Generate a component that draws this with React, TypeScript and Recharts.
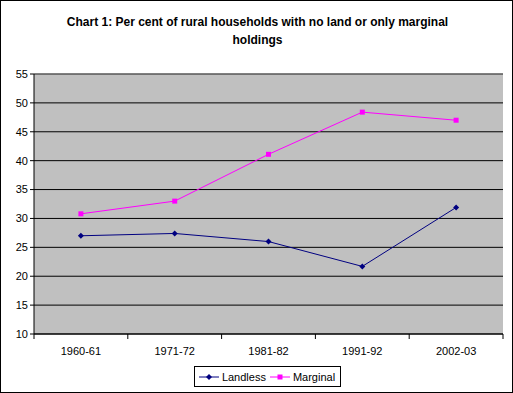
import { LineChart, Line, XAxis, YAxis, CartesianGrid, Legend, ReferenceLine } from "recharts"

const years = ["1960-61", "1971-72", "1981-82", "1991-92", "2002-03"]
const landless = [27.0, 27.4, 26.0, 21.7, 31.9]
const marginal = [30.8, 33.0, 41.1, 48.4, 47.0]
const yTicks = [10, 15, 20, 25, 30, 35, 40, 45, 50, 55]

const chartData = years.map((year, i) => ({ year, landless: landless[i], marginal: marginal[i] }))

const FONT = "'Liberation Sans', Arial, sans-serif"

function Diamond(props: any) {
  const { cx, cy } = props
  if (cx == null || cy == null) return null
  return <polygon points={`${cx},${cy - 3} ${cx + 3},${cy} ${cx},${cy + 3} ${cx - 3},${cy}`} fill="#000080" />
}

function Square(props: any) {
  const { cx, cy } = props
  if (cx == null || cy == null) return null
  return <rect x={cx - 2.5} y={cy - 2.5} width={5} height={5} fill="#ff00ff" />
}

function CategoryTick(props: any) {
  const { x, y, payload, index, visibleTicksCount, width } = props
  const band = (width || 469) / (visibleTicksCount || 5)
  const left = x - band / 2
  return (
    <g>
      <line x1={left} y1={y} x2={left} y2={y + 5} stroke="#000" />
      {index === visibleTicksCount - 1 && (
        <line x1={x + band / 2} y1={y} x2={x + band / 2} y2={y + 5} stroke="#000" />
      )}
      <text x={x} y={y + 21} textAnchor="middle" fontSize={11} fontFamily={FONT} fill="#000">
        {payload.value}
      </text>
    </g>
  )
}

function LegendBox() {
  const item = (label: string, color: string, square: boolean) => (
    <span style={{ display: "inline-flex", alignItems: "center", marginRight: 4 }}>
      <svg width={20} height={8} style={{ marginRight: 3 }}>
        <line x1={0} y1={4} x2={20} y2={4} stroke={color} strokeWidth={1} />
        {square ? (
          <rect x={7.5} y={1.5} width={5} height={5} fill={color} />
        ) : (
          <polygon points="10,1 13,4 10,7 7,4" fill={color} />
        )}
      </svg>
      {label}
    </span>
  )
  return (
    <div style={{ display: "flex", justifyContent: "center", paddingLeft: 32 }}>
      <div
        style={{
          border: "1px solid #000",
          height: 19,
          display: "flex",
          alignItems: "center",
          padding: "0 1px 0 4px",
          fontSize: 11,
          fontFamily: FONT,
          background: "#fff",
        }}
      >
        {item("Landless", "#000080", false)}
        {item("Marginal", "#ff00ff", true)}
      </div>
    </div>
  )
}

export default function App() {
  return (
    <div
      style={{
        position: "absolute",
        left: 0,
        top: 0,
        width: 513,
        height: 393,
        boxSizing: "border-box",
        border: "1px solid #000",
        background: "#fff",
      }}
    >
      <div
        style={{
          position: "absolute",
          top: 12,
          left: 0,
          width: 513,
          textAlign: "center",
          fontFamily: FONT,
          fontWeight: "bold",
          fontSize: 12,
          lineHeight: "18px",
        }}
      >
        Chart 1: Per cent of rural households with no land or only marginal
        <br />
        holdings
      </div>
      <div style={{ position: "absolute", left: -1, top: -1 }}>
        <LineChart width={513} height={393} data={chartData} margin={{ top: 74, right: 10, bottom: 6, left: 0 }}>
          <CartesianGrid vertical={false} fill="#c0c0c0" stroke="#000" strokeOpacity={1} />
          <ReferenceLine y={55} stroke="#808080" />
          <XAxis
            dataKey="year"
            scale="band"
            stroke="#000"
            tickLine={false}
            tickSize={0}
            tickMargin={0}
            height={32}
            tick={<CategoryTick />}
            interval={0}
          />
          <YAxis
            domain={[10, 55]}
            ticks={yTicks}
            width={34}
            stroke="#000"
            tickSize={4}
            tickMargin={2}
            tick={{ fontSize: 11, fontFamily: FONT, fill: "#000" }}
            interval={0}
          />
          <YAxis
            yAxisId="right"
            orientation="right"
            width={0}
            domain={[10, 55]}
            tick={false}
            tickLine={false}
            stroke="#808080"
          />
          <Legend verticalAlign="bottom" height={21} content={<LegendBox />} />
          <Line
            dataKey="landless"
            name="Landless"
            stroke="#000080"
            strokeWidth={1}
            dot={<Diamond />}
            isAnimationActive={false}
          />
          <Line
            dataKey="marginal"
            name="Marginal"
            stroke="#ff00ff"
            strokeWidth={1}
            dot={<Square />}
            isAnimationActive={false}
          />
        </LineChart>
      </div>
    </div>
  )
}
